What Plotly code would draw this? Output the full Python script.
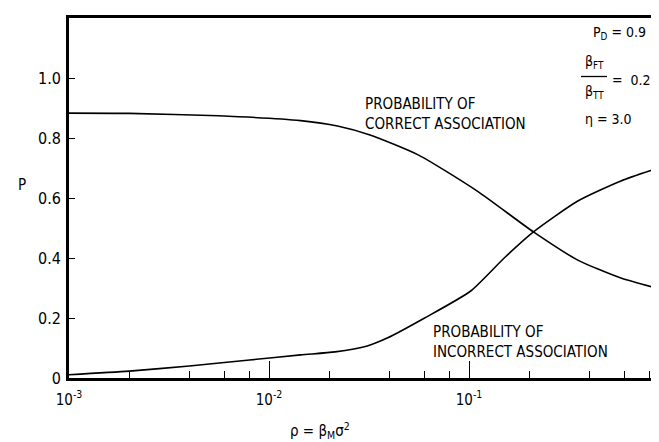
import plotly.graph_objects as go

# ---- data ----
rho_correct = [0.001, 0.002, 0.0056, 0.0144, 0.022, 0.032, 0.056, 0.11, 0.21, 0.35, 0.575, 0.98]
p_correct = [0.883, 0.882, 0.874, 0.858, 0.84, 0.81, 0.743, 0.623, 0.487, 0.393, 0.333, 0.29]

rho_incorrect = [0.001, 0.002, 0.004, 0.008, 0.0144, 0.0214, 0.031, 0.039, 0.06, 0.102, 0.15, 0.21, 0.35, 0.575, 0.98]
p_incorrect = [0.011, 0.023, 0.04, 0.06, 0.077, 0.087, 0.107, 0.133, 0.2, 0.29, 0.4, 0.487, 0.59, 0.657, 0.71]

x_major = [0.001, 0.01, 0.1]
x_major_text = ["10<sup>-3</sup>", "10<sup>-2</sup>", "10<sup>-1</sup>"]
x_minor = [m * d for d in (0.001, 0.01, 0.1) for m in (2, 4, 6, 8)]
y_ticks = [0, 0.2, 0.4, 0.6, 0.8, 1.0]
y_text = ["0", "0.2", "0.4", "0.6", "0.8", "1.0"]

FONT = "DejaVu Sans Condensed, Liberation Sans Narrow, sans-serif"

fig = go.Figure()
fig.add_trace(go.Scatter(x=rho_correct, y=p_correct, mode="lines",
                         line=dict(color="black", width=1.6, shape="spline", smoothing=0.6),
                         showlegend=False, hoverinfo="skip"))
fig.add_trace(go.Scatter(x=rho_incorrect, y=p_incorrect, mode="lines",
                         line=dict(color="black", width=1.6, shape="spline", smoothing=0.6),
                         showlegend=False, hoverinfo="skip"))

fig.update_layout(
    width=659, height=442,
    margin=dict(l=61, r=1, t=10, b=72),
    paper_bgcolor="white", plot_bgcolor="white",
    font=dict(family=FONT, size=15, color="black"),
    xaxis=dict(type="log", range=[-3, -0.015], showgrid=False, zeroline=False,
               showline=True, linecolor="black", linewidth=2.5, mirror=True,
               ticks="inside", ticklen=17, tickwidth=1.3, tickcolor="black",
               tickvals=x_major, ticktext=x_major_text, ticklabelstandoff=6,
               tickfont=dict(family=FONT, size=15),
               minor=dict(tickvals=x_minor, ticks="inside", ticklen=7,
                          tickwidth=1.2, tickcolor="black", showgrid=False)),
    yaxis=dict(range=[0, 1.2], showgrid=False, zeroline=False,
               showline=True, linecolor="black", linewidth=2.8, mirror=False,
               ticks="inside", ticklen=6, tickwidth=1.2, tickcolor="black",
               tickvals=y_ticks, ticktext=y_text, ticklabelstandoff=2,
               tickfont=dict(family=FONT, size=16)),
)

ann = dict(showarrow=False, font=dict(family=FONT, size=15, color="black"))
small = dict(showarrow=False, font=dict(family=FONT, size=14, color="black"))
fig.add_annotation(x=-1.53, y=0.95, xref="x", yref="y", xanchor="left", yanchor="top",
                   align="left", text="PROBABILITY OF<br>CORRECT ASSOCIATION", **ann)
fig.add_annotation(x=-1.19, y=0.19, xref="x", yref="y", xanchor="left", yanchor="top",
                   align="left", text="PROBABILITY OF<br>INCORRECT ASSOCIATION", **ann)

# parameters, top right
fig.add_annotation(x=-0.39, y=1.15, xref="x", yref="y", xanchor="left", yanchor="middle",
                   text="P<sub>D</sub> = 0.9", **small)
fig.add_annotation(x=-0.375, y=1.055, xref="x", yref="y", xanchor="center", yanchor="middle",
                   text="β<sub>FT</sub>", **small)
fig.add_annotation(x=-0.375, y=0.955, xref="x", yref="y", xanchor="center", yanchor="middle",
                   text="β<sub>TT</sub>", **small)
fig.add_shape(type="line", xref="x", yref="y", x0=10**-0.44, x1=10**-0.31, y0=1.005, y1=1.005,
              line=dict(color="black", width=1.3))
fig.add_annotation(x=-0.295, y=0.995, xref="x", yref="y", xanchor="left", yanchor="middle",
                   text="=  0.2", **small)
fig.add_annotation(x=-0.43, y=0.865, xref="x", yref="y", xanchor="left", yanchor="middle",
                   text="η = 3.0", **small)

# axis titles
fig.add_annotation(x=-0.078, y=0.645, xref="paper", yref="y", xanchor="center", yanchor="middle",
                   text="P", **ann)
fig.add_annotation(x=0.42, y=-0.145, xref="paper", yref="paper", xanchor="center", yanchor="middle",
                   text="ρ = β<sub>M</sub>σ<sup>2</sup>", **ann)

fig.write_html("out.html")
